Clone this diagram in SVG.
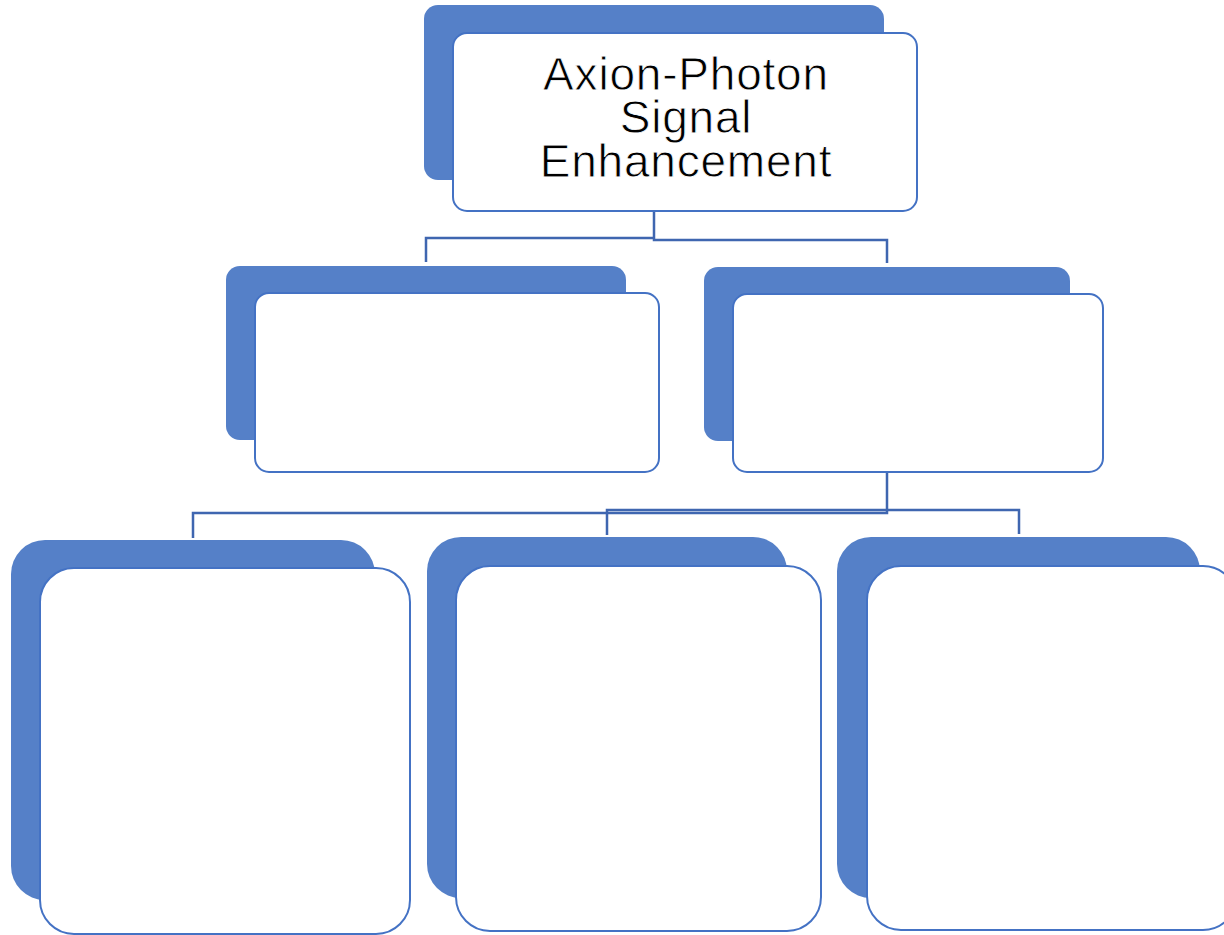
<svg xmlns="http://www.w3.org/2000/svg" width="1224" height="935" viewBox="0 0 1224 935">
<style>
.back{fill:#5580C8;stroke:none}
.front{fill:#ffffff;stroke:#4472C4;stroke-width:2}
.conn{fill:none;stroke:#3F66B0;stroke-width:2.5}
.t{font-family:"Liberation Sans",Arial,sans-serif;font-size:46px;letter-spacing:0.8px;fill:#000;stroke:#fff;stroke-width:0.8px;text-anchor:middle}
</style>
<rect width="1224" height="935" fill="#ffffff"/>
<g id="connectors">
<path class="conn" d="M654,211 V238 M426,262 V238 H654 V240 H887 V263"/>
<path class="conn" d="M887,472 V513 H193 V538"/>
<path class="conn" d="M887,510 H607 V535 M887,510 H1019 V534"/>
</g>
<g id="n-root">
<rect class="back" x="424" y="5" width="460" height="175" rx="14"/>
<rect class="front" x="453" y="33" width="464" height="178" rx="14"/>
<text class="t"><tspan x="686" y="90">Axion-Photon</tspan><tspan x="686" y="133">Signal</tspan><tspan x="686" y="177">Enhancement</tspan></text>
</g>
<g id="n-l2a">
<rect class="back" x="226" y="266" width="400" height="174" rx="14"/>
<rect class="front" x="255" y="293" width="404" height="179" rx="14"/>
</g>
<g id="n-l2b">
<rect class="back" x="704" y="267" width="366" height="174" rx="14"/>
<rect class="front" x="733" y="294" width="370" height="178" rx="14"/>
</g>
<g id="n-l3a">
<rect class="back" x="11" y="540" width="364" height="360" rx="34"/>
<rect class="front" x="40" y="568" width="370" height="366" rx="34"/>
</g>
<g id="n-l3b">
<rect class="back" x="427" y="537" width="360" height="361" rx="34"/>
<rect class="front" x="456" y="566" width="365" height="365" rx="34"/>
</g>
<g id="n-l3c">
<rect class="back" x="837" y="537" width="363" height="361" rx="34"/>
<rect class="front" x="867" y="566" width="370" height="364" rx="34"/>
</g>
</svg>
